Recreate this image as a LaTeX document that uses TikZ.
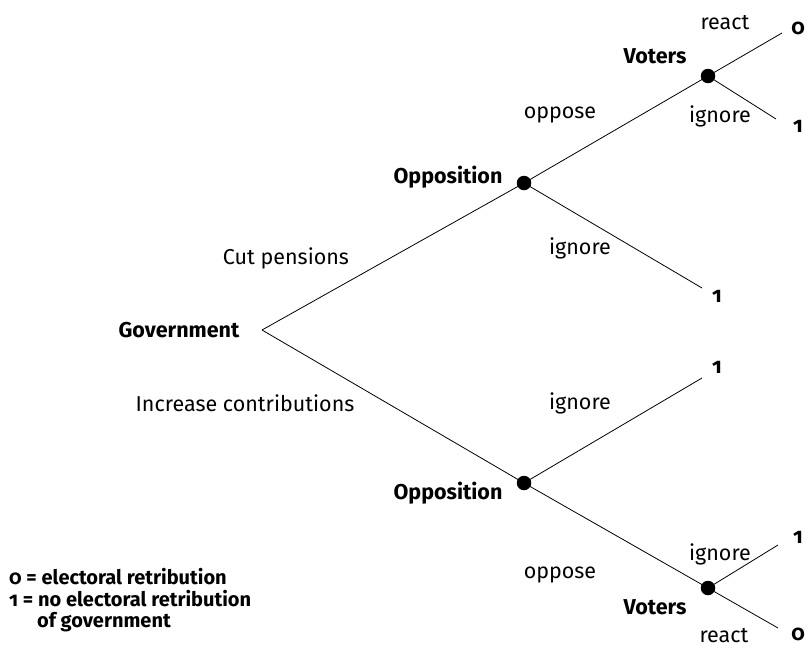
\documentclass[tikz,border=0pt]{standalone}
\usepackage{fontspec}
\setmainfont{Fira Sans}[Numbers=OldStyle]
\begin{document}
\begin{tikzpicture}[x=1pt,y=-1pt,
  lbl/.style={font=\fontsize{21.5}{25}\selectfont, inner sep=0pt},
  blbl/.style={font=\fontsize{21.5}{25}\selectfont\bfseries, inner sep=0pt},
  leg/.style={font=\fontsize{20}{22}\selectfont\bfseries, inner sep=0pt},
  num/.style={font=\fontsize{21.5}{25}\selectfont\bfseries, inner sep=0pt},
  dot/.style={circle, fill=black, minimum size=14.5pt, inner sep=0pt},
  edge/.style={draw=black, line width=0.8pt}]
\useasboundingbox (0,0) rectangle (810,648);
% nodes
\coordinate (gov) at (262,330);
\node[dot] (oppT) at (524,183) {};
\node[dot] (oppB) at (524,483) {};
\node[dot] (votT) at (708,76) {};
\node[dot] (votB) at (708,588) {};
\coordinate (eT1) at (782,33);
\coordinate (eT2) at (776,119);
\coordinate (eT3) at (702,288);
\coordinate (eB1) at (702,378);
\coordinate (eB2) at (778,545);
\coordinate (eB3) at (778,628);
% edges
\draw[edge] (gov) -- (oppT.center);
\draw[edge] (gov) -- (oppB.center);
\draw[edge] (oppT.center) -- (votT.center);
\draw[edge] (oppT.center) -- (eT3);
\draw[edge] (votT.center) -- (eT1);
\draw[edge] (votT.center) -- (eT2);
\draw[edge] (oppB.center) -- (eB1);
\draw[edge] (oppB.center) -- (votB.center);
\draw[edge] (votB.center) -- (eB2);
\draw[edge] (votB.center) -- (eB3);
% outcomes
\node[num] (o1) at (798,28) {0};
\node[num] (o2) at (798,126) {1};
\node[num] (o3) at (717,296) {1};
\node[num] (o4) at (717,367) {1};
\node[num] (o5) at (798,537) {1};
\node[num] (o6) at (798,634) {0};
% labels
\node[lbl] (l1) at (725,23) {react};
\node[blbl] (l2) at (655,56) {Voters};
\node[lbl] (l3) at (720,116) {ignore};
\node[lbl] (l4) at (560,115) {oppose};
\node[blbl] (l5) at (448,177) {Opposition};
\node[lbl] (l6) at (580,248) {ignore};
\node[lbl] (l7) at (286,258) {Cut pensions};
\node[blbl] (l8) at (179,330) {Government};
\node[lbl] (l9) at (245,403) {Increase contributions};
\node[lbl] (l10) at (580,403) {ignore};
\node[blbl] (l11) at (448,493) {Opposition};
\node[lbl] (l12) at (560,575) {oppose};
\node[lbl] (l13) at (720,554) {ignore};
\node[blbl] (l14) at (655,607) {Voters};
\node[lbl] (l15) at (724,636) {react};
% legend
\node[leg, anchor=west] (g1) at (9,577) {0 = electoral retribution};
\node[leg, anchor=west] (g2) at (9,599) {1 = no electoral retribution};
\node[leg, anchor=west] (g3) at (37,622) {of government};
\end{tikzpicture}
\end{document}
